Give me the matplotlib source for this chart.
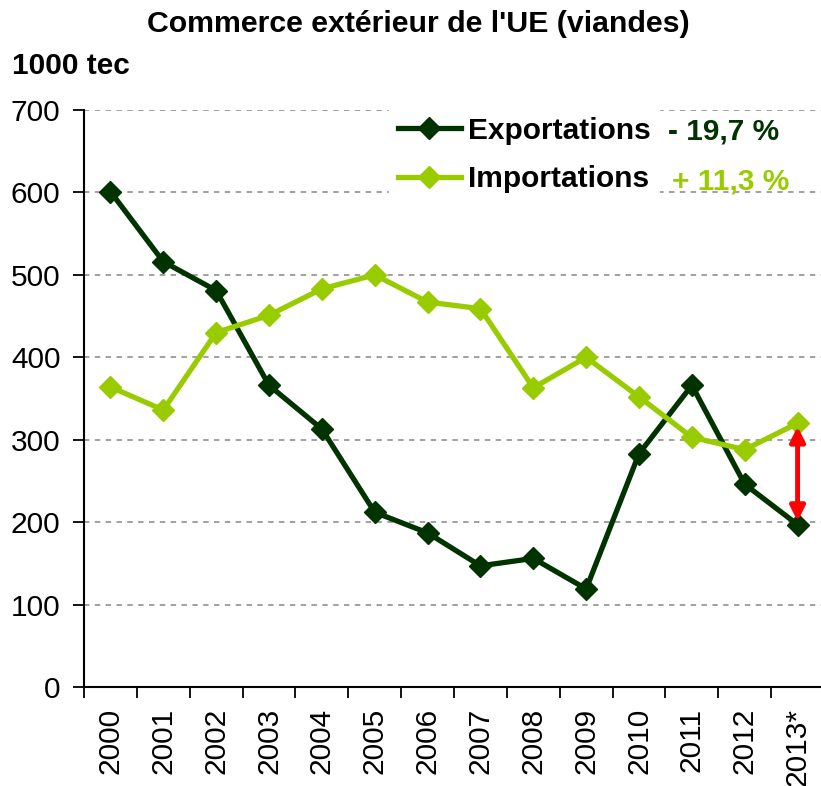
import matplotlib
matplotlib.use("Agg")
import matplotlib.pyplot as plt

plt.rcParams["font.family"] = ["Liberation Sans", "DejaVu Sans"]

years = ["2000", "2001", "2002", "2003", "2004", "2005", "2006",
         "2007", "2008", "2009", "2010", "2011", "2012", "2013*"]
exports = [601, 516, 481, 366, 313, 212, 187, 147, 156, 119, 283, 366, 246, 197]
imports = [364, 336, 430, 451, 483, 500, 467, 459, 363, 400, 352, 303, 288, 320]
exp_change = "- 19,7 %"
imp_change = "+ 11,3 %"

C_EXP = "#003300"
C_IMP = "#99cc00"
FS = 21.5

fig = plt.figure(figsize=(8.21, 7.86), dpi=100)
ax = fig.add_axes([84 / 821, 1 - 687 / 786, 740 / 821, (687 - 110) / 786])

x = list(range(len(years)))
ax.plot(x, exports, color=C_EXP, lw=3.8, marker="D", ms=11, label="Exportations", zorder=3)
ax.plot(x, imports, color=C_IMP, lw=3.8, marker="D", ms=11, label="Importations", zorder=3)

# gap between the two series in the last year
ax.annotate("", xy=(x[-1], imports[-1] - 4), xytext=(x[-1], exports[-1] + 4),
            arrowprops=dict(arrowstyle="<|-|>", color="red", lw=3.5,
                            mutation_scale=22, shrinkA=0, shrinkB=0), zorder=4)

ax.set_xlim(-0.5, len(years) - 0.5)
ax.set_ylim(0, 700)
ax.set_yticks(range(0, 701, 100))
ax.set_xticks([i - 0.5 for i in x], minor=False)
ax.set_xticklabels([])
ax.set_xticks(x, minor=True)
ax.set_xticklabels(years, minor=True, rotation=90, fontsize=FS)
ax.tick_params(axis="x", which="major", length=8, width=1.3, direction="out")
ax.tick_params(axis="x", which="minor", length=0, pad=15)
ax.tick_params(axis="y", length=8, width=1.3, direction="out", labelsize=FS, pad=9)

ax.yaxis.grid(True, color="#999999", ls=(0, (3, 3)), lw=1.3, zorder=0)
ax.set_axisbelow(True)
for s in ("top", "right"):
    ax.spines[s].set_visible(False)
for s in ("left", "bottom"):
    ax.spines[s].set_linewidth(1.5)

leg = ax.legend(loc="upper left", bbox_to_anchor=(0.412, 1.004), frameon=True,
                framealpha=1, facecolor="white", edgecolor="none",
                handlelength=2.1, handletextpad=0.25, labelspacing=0.68,
                borderpad=0.3, borderaxespad=0, prop=dict(size=FS, weight="bold"),
                fancybox=False)
leg.set_zorder(2)

ax.text((668 - 84) / 740, (687 - 131) / 577, exp_change, transform=ax.transAxes,
        color=C_EXP, fontsize=FS, fontweight="bold", va="center", ha="left")
ax.text((672 - 84) / 740, (687 - 181) / 577, imp_change, transform=ax.transAxes,
        color=C_IMP, fontsize=FS, fontweight="bold", va="center", ha="left")

fig.text(418 / 821, 1 - 24 / 786, "Commerce extérieur de l'UE (viandes)",
         ha="center", va="center", fontsize=21.8, fontweight="bold")
fig.text(12 / 821, 1 - 66 / 786, "1000 tec", ha="left", va="center",
         fontsize=FS, fontweight="bold")

fig.savefig("out.png", dpi=100)
